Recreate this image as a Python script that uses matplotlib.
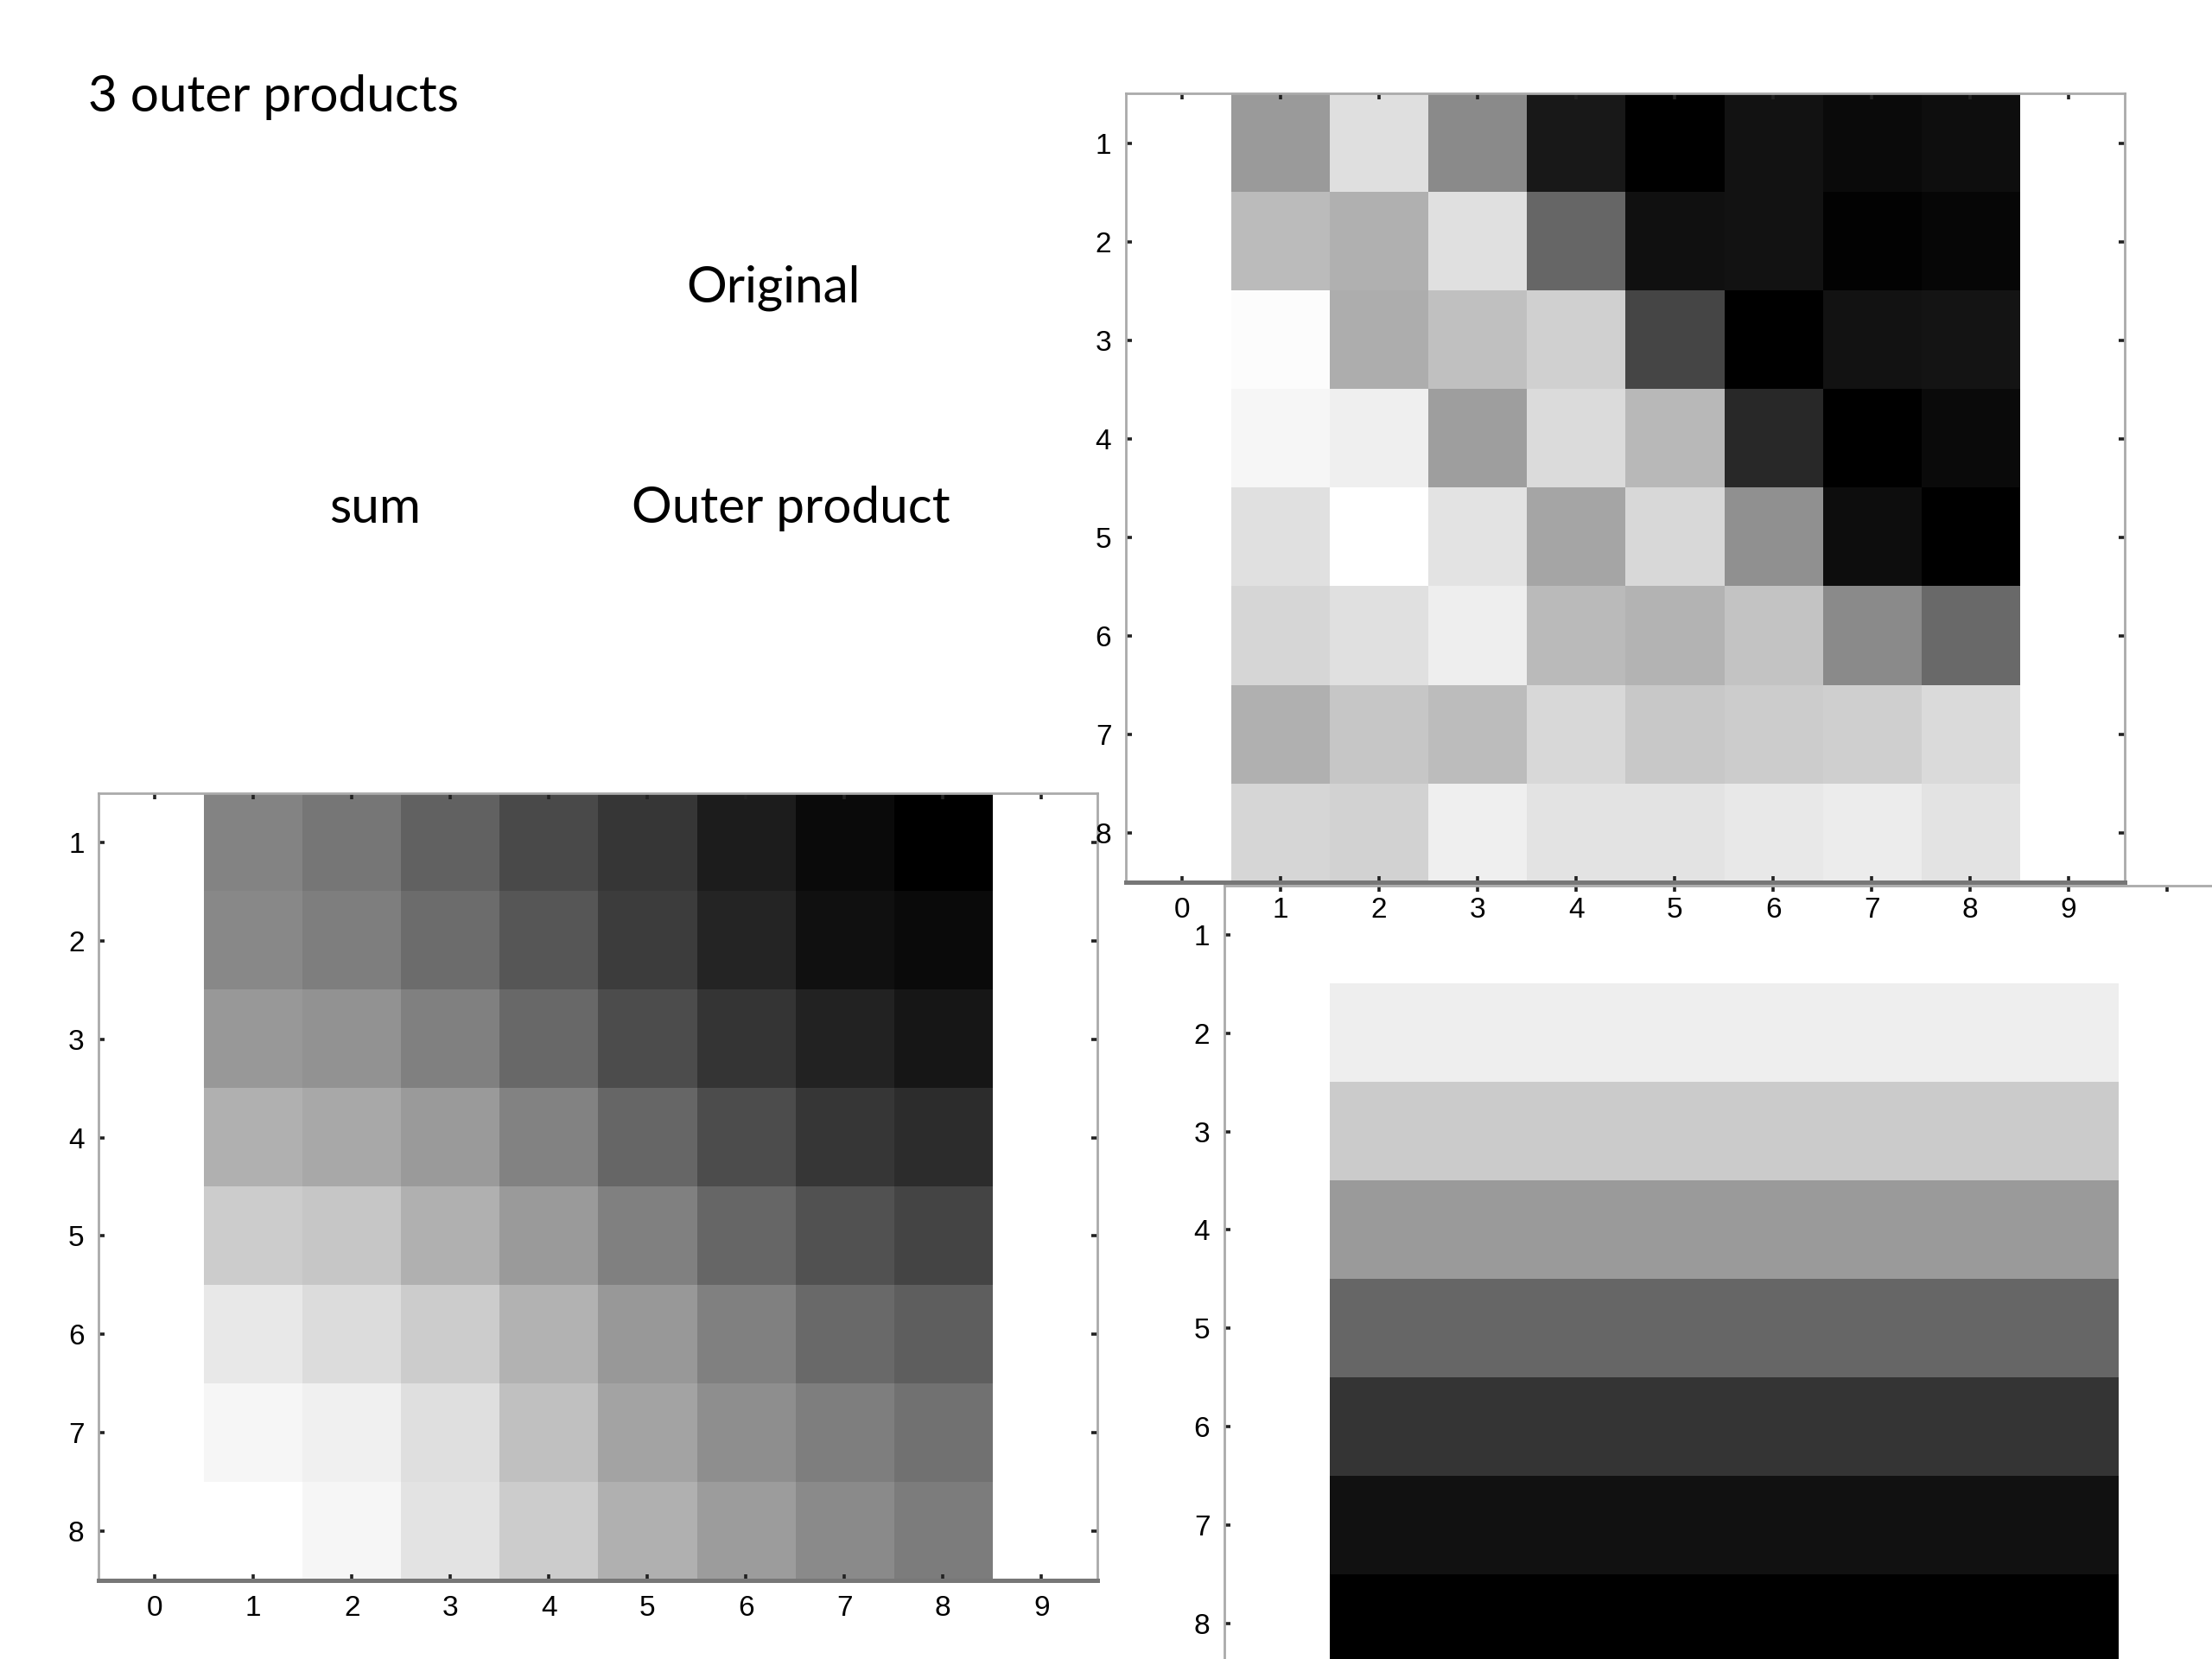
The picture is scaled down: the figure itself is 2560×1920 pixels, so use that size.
import numpy as np
import matplotlib
matplotlib.use('Agg')
import matplotlib.pyplot as plt

plt.rcParams['font.family'] = ['Liberation Sans', 'DejaVu Sans']

# grey levels (0 = black, 255 = white), rows 1..8, cols 1..8
original = [
    [154, 223, 138, 24, 0, 18, 10, 14],
    [187, 176, 224, 102, 16, 18, 2, 6],
    [252, 173, 192, 208, 69, 0, 18, 20],
    [246, 239, 158, 219, 184, 40, 0, 10],
    [224, 255, 228, 165, 216, 144, 13, 0],
    [214, 224, 238, 186, 180, 196, 138, 106],
    [176, 198, 188, 216, 200, 204, 207, 218],
    [214, 210, 239, 228, 228, 232, 236, 228],
]

rank3_sum = [
    [132, 118, 98, 74, 54, 28, 10, 0],
    [136, 126, 108, 86, 60, 36, 16, 10],
    [152, 146, 128, 104, 76, 52, 34, 22],
    [176, 168, 154, 130, 102, 76, 54, 44],
    [204, 198, 176, 154, 128, 102, 82, 68],
    [232, 220, 204, 178, 152, 128, 106, 94],
    [246, 240, 223, 192, 164, 142, 126, 114],
    [255, 246, 228, 204, 176, 156, 138, 124],
]

# outer product: constant along each row
outer_rows = [255, 238, 203, 154, 102, 53, 17, 0]
outer_cols = [1, 1, 1, 1, 1, 1, 1, 1]

x_ticks = list(range(10))
y_ticks = list(range(1, 9))


def draw(ax, data):
    ax.imshow(np.array(data, dtype=float), cmap='gray', vmin=0, vmax=255,
              extent=(0.5, 8.5, 8.5, 0.5), aspect='auto',
              interpolation='nearest')
    ax.set_xlim(-0.57, 9.57)
    ax.set_ylim(8.5, 0.5)
    ax.set_xticks(x_ticks)
    ax.set_yticks(y_ticks)
    ax.tick_params(direction='in', length=2.5, width=1.3, top=True, right=True,
                   labelsize=12, pad=6, color='#222222')
    ax.set_facecolor('none')
    for s in ax.spines.values():
        s.set_color('#aaaaaa')
        s.set_linewidth(1.0)
    ax.spines['bottom'].set_color('#777777')
    ax.spines['bottom'].set_linewidth(1.8)


fig = plt.figure(figsize=(12.8, 9.6), dpi=200)

ax_sum = fig.add_axes([0.0446, 0.0474, 0.4516, 0.4745])
draw(ax_sum, rank3_sum)

ax_outer = fig.add_axes([0.5535, -0.0083, 0.4516, 0.4745])
draw(ax_outer, np.outer(outer_rows, outer_cols))
ax_outer.tick_params(labelbottom=False)

# drawn last so its tick labels sit on top of the outer-product panel
ax_orig = fig.add_axes([0.509, 0.468, 0.4516, 0.4755], zorder=3)
draw(ax_orig, original)

txt = dict(fontfamily='Lato', fontsize=21, color='black', va='baseline')
fig.text(102 / 2560, 1 - 129 / 1920, '3 outer products', ha='left', **txt)
fig.text(895 / 2560, 1 - 350 / 1920, 'Original', ha='center', **txt)
fig.text(434 / 2560, 1 - 605 / 1920, 'sum', ha='center', **txt)
fig.text(915 / 2560, 1 - 605 / 1920, 'Outer product', ha='center', **txt)

fig.savefig('out.png', dpi=200)
